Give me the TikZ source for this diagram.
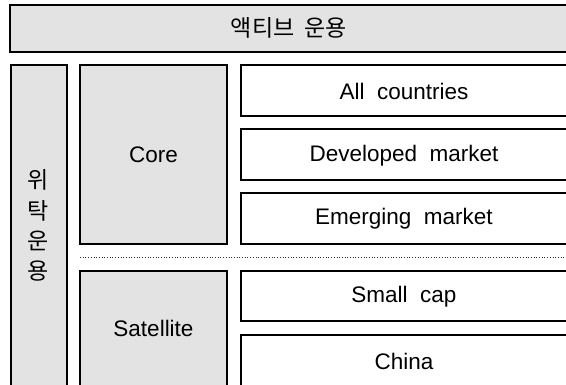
\documentclass[tikz,border=0pt]{standalone}
\usepackage{fontspec}
\setmainfont{Liberation Sans}
\newfontfamily\kr{Noto Sans CJK KR}
\definecolor{panel}{RGB}{227,227,227}
\begin{document}
\begin{tikzpicture}[x=1pt,y=-1pt,
  box/.style={draw=black,line width=1.6pt},
  greybox/.style={box,fill=panel},
  whitebox/.style={box,fill=white},
  lbl/.style={font=\fontsize{22.5}{26}\selectfont,inner sep=0pt,anchor=center},
  krlbl/.style={font=\kr\fontsize{23}{27}\selectfont,inner sep=0pt,anchor=center}]
\clip (0,0) rectangle (566,384);
\fill[white] (0,0) rectangle (566,384);

% active management banner
\draw[greybox,line width=2.2pt] (10,5) rectangle (580,52);
\node[krlbl] (active) at (289,28) {액티브\ \ 운용};

% delegated management column
\draw[greybox] (11,65) rectangle (67,400);
\node[krlbl] (w1) at (38,180) {위};
\node[krlbl] (w2) at (38,210.5) {탁};
\node[krlbl] (w3) at (38,241) {운};
\node[krlbl] (w4) at (38,271.5) {용};

% core / satellite blocks
\draw[greybox] (80,65) rectangle (227,244);
\node[lbl] (core) at (153.5,155) {Core};
\draw[greybox] (80,271) rectangle (227,400);
\node[lbl] (sat) at (153.5,328) {Satellite};

% separator between core and satellite
\draw[line width=0.7pt,dotted,black!80] (80,257) -- (570,257);

% strategy boxes
\draw[whitebox] (241,65) rectangle (580,116);
\node[lbl] (all) at (404,91) {All\ \ countries};
\draw[whitebox] (241,129) rectangle (580,180);
\node[lbl] (dev) at (404,155.5) {Developed\ \ market};
\draw[whitebox] (241,193) rectangle (580,244);
\node[lbl] (emg) at (404,219) {Emerging\ \ market};
\draw[whitebox] (241,271) rectangle (580,321);
\node[lbl] (small) at (404,297) {Small\ \ cap};
\draw[whitebox] (241,335) rectangle (580,400);
\node[lbl] (china) at (404,361) {China};
\end{tikzpicture}
\end{document}
